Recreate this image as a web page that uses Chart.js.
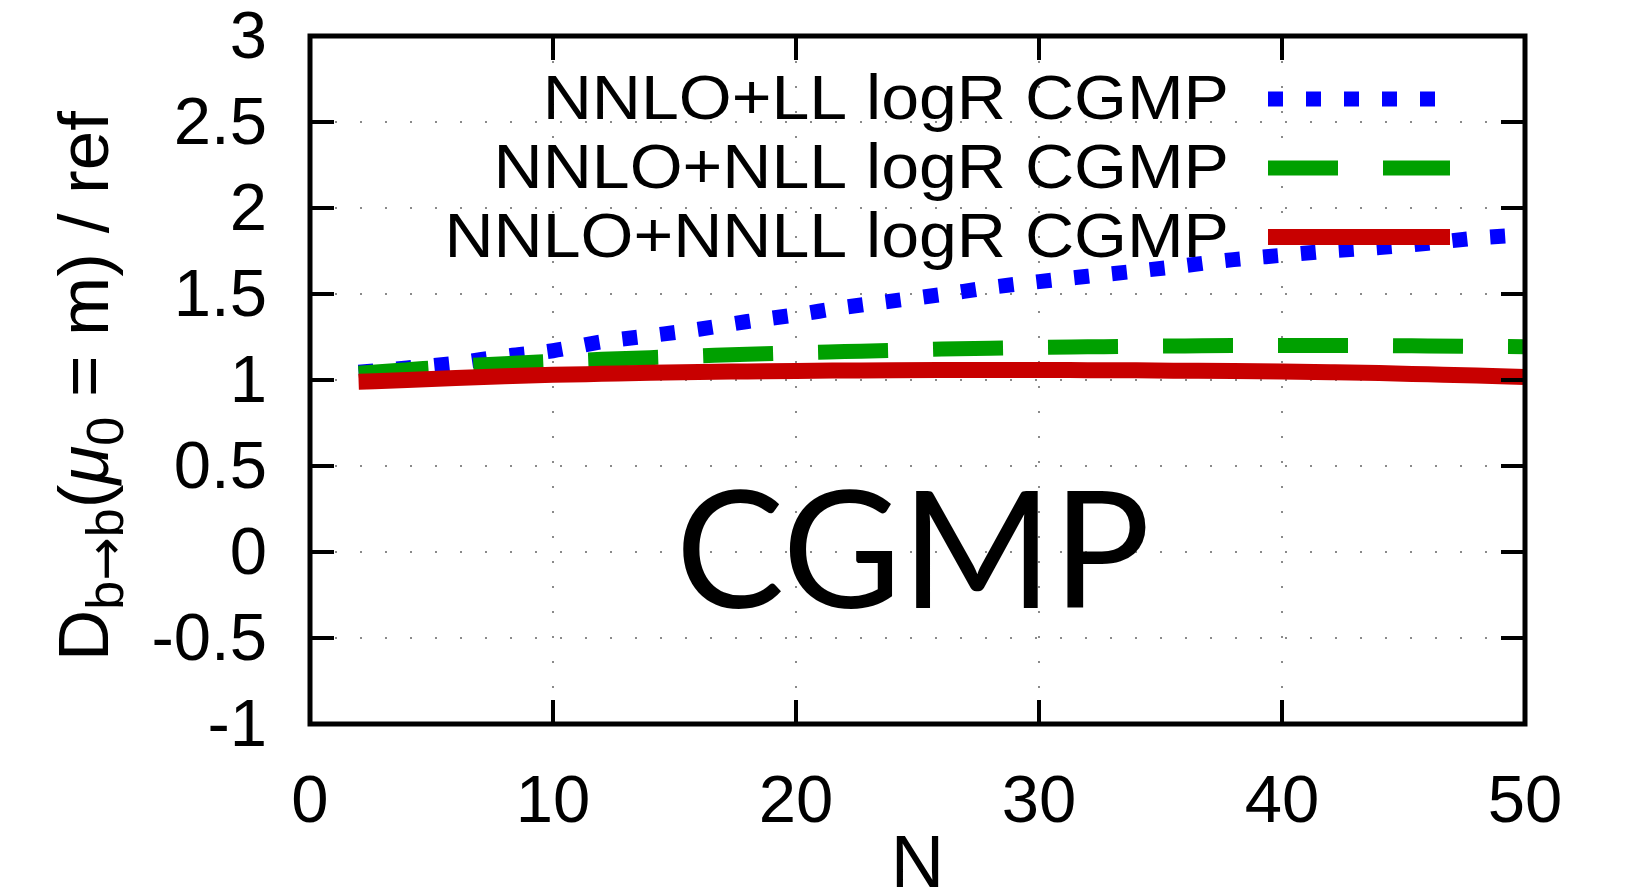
<!DOCTYPE html>
<html lang="en">
<head>
<meta charset="UTF-8">
<title>CGMP</title>
<script src="https://cdn.jsdelivr.net/npm/chart.js"></script>
<style>
  html, body { margin: 0; padding: 0; background: #fff; }
  #wrap { width: 1630px; height: 894px; }
</style>
</head>
<body>
<div id="wrap"><canvas id="chart" width="1630" height="894"></canvas></div>
<script>
// values
const nValues = [2, 4, 6, 8, 10, 12, 14, 16, 18, 20, 22, 24, 26, 28, 30, 32, 34, 36, 38, 40, 42, 44, 46, 48, 50];
const llValues = [1.045, 1.07, 1.098, 1.138, 1.17, 1.222, 1.258, 1.295, 1.34, 1.379, 1.423, 1.46, 1.497,
                  1.538, 1.572, 1.603, 1.633, 1.665, 1.70, 1.725, 1.75, 1.77, 1.795, 1.825, 1.845];
const nllValues = [1.04, 1.06, 1.08, 1.095, 1.108, 1.12, 1.13, 1.14, 1.15, 1.158, 1.165, 1.172, 1.18,
                   1.185, 1.19, 1.193, 1.196, 1.198, 1.2, 1.2, 1.2, 1.2, 1.198, 1.196, 1.194];
const nnllValues = [0.99, 1.0, 1.012, 1.022, 1.03, 1.036, 1.042, 1.047, 1.05, 1.053, 1.055, 1.057, 1.058,
                    1.058, 1.058, 1.057, 1.056, 1.054, 1.052, 1.049, 1.045, 1.04, 1.033, 1.026, 1.018];
const seriesLabels = ['NNLO+LL logR CGMP', 'NNLO+NLL logR CGMP', 'NNLO+NNLL logR CGMP'];
const xTicks = [0, 10, 20, 30, 40, 50];
const yTicks = [-1, -0.5, 0, 0.5, 1, 1.5, 2, 2.5, 3];
const xTitle = 'N';
const overlayText = 'CGMP';

const FONT = '"Liberation Sans", Arial, Helvetica, sans-serif';

function pts(ys) {
    return nValues.map((n, i) => ({ x: n, y: ys[i] }));
}

// gnuplot style key: text on the left, sample on the right, drawn just before its own curve
const keyPlugin = {
    id: 'key',
    beforeDatasetDraw(chart, args) {
        const ds = chart.data.datasets[args.index];
        const area = chart.chartArea;
        const ctx = chart.ctx;
        const y = area.top + 63 + 69 * args.index;
        ctx.save();
        ctx.fillStyle = '#000';
        ctx.font = '63px ' + FONT;
        ctx.textAlign = 'right';
        ctx.textBaseline = 'middle';
        ctx.translate(area.right - 296, y + 3);
        ctx.scale(1.08, 1);
        ctx.fillText(ds.label, 0, 0);
        ctx.restore();

        ctx.save();
        ctx.strokeStyle = ds.borderColor;
        ctx.lineWidth = ds.borderWidth;
        ctx.lineCap = 'butt';
        ctx.setLineDash(ds.borderDash || []);
        ctx.beginPath();
        ctx.moveTo(area.right - 257, y);
        ctx.lineTo(area.right - 75, y);
        ctx.stroke();
        ctx.restore();
    }
};

// frame plus inward mirrored tics
const framePlugin = {
    id: 'frame',
    afterDatasetsDraw(chart) {
        const { ctx, chartArea: a, scales } = chart;
        const tl = 24;
        ctx.save();
        ctx.strokeStyle = '#000';
        ctx.lineWidth = 4;
        ctx.beginPath();
        scales.x.ticks.forEach(t => {
            const px = scales.x.getPixelForValue(t.value);
            ctx.moveTo(px, a.bottom); ctx.lineTo(px, a.bottom - tl);
            ctx.moveTo(px, a.top); ctx.lineTo(px, a.top + tl);
        });
        scales.y.ticks.forEach(t => {
            const py = scales.y.getPixelForValue(t.value);
            ctx.moveTo(a.left, py); ctx.lineTo(a.left + tl, py);
            ctx.moveTo(a.right, py); ctx.lineTo(a.right - tl, py);
        });
        ctx.stroke();
        ctx.lineWidth = 5;
        ctx.strokeRect(a.left, a.top, a.right - a.left, a.bottom - a.top);
        ctx.restore();
    }
};

// rotated y title with subscripts, and the big slide label
const textPlugin = {
    id: 'texts',
    afterDraw(chart) {
        const ctx = chart.ctx;
        const main = '71px ' + FONT;
        const sub = '52px ' + FONT;
        const arrow = '52px "DejaVu Sans", sans-serif';
        const ital = 'italic 71px ' + FONT;
        const parts = [
            { t: 'D', f: main, dy: 0 },
            { t: 'b', f: sub, dy: 15 },
            { t: '\u2192', f: arrow, dy: 15 },
            { t: 'b', f: sub, dy: 15 },
            { t: '(', f: main, dy: 0 },
            { t: '\u03bc', f: ital, dy: 0 },
            { t: '0', f: sub, dy: 15 },
            { t: ' = m) / ref', f: main, dy: 0 }
        ];
        ctx.save();
        ctx.fillStyle = '#000';
        ctx.textBaseline = 'alphabetic';
        ctx.textAlign = 'left';
        let total = 0;
        parts.forEach(p => { ctx.font = p.f; p.w = ctx.measureText(p.t).width; total += p.w; });
        ctx.translate(108, 386);
        ctx.rotate(-Math.PI / 2);
        let x = -total / 2;
        parts.forEach(p => {
            ctx.font = p.f;
            ctx.fillText(p.t, x, p.dy);
            x += p.w;
        });
        ctx.restore();

        ctx.save();
        ctx.fillStyle = '#000';
        ctx.font = '163px Lato, "Noto Sans", sans-serif';
        ctx.textAlign = 'center';
        ctx.textBaseline = 'alphabetic';
        ctx.fillText(overlayText, 913, 608);
        ctx.restore();
    }
};

const tickFont = { family: FONT, size: 67, lineHeight: 1 };
const tickLabel = v => String(v);

new Chart(document.getElementById('chart'), {
    type: 'line',
    data: {
        datasets: [
            {
                label: seriesLabels[0], data: pts(llValues), order: 3,
                borderColor: '#0000ff', borderWidth: 15, borderDash: [15, 23], borderCapStyle: 'butt'
            },
            {
                label: seriesLabels[1], data: pts(nllValues), order: 2,
                borderColor: '#00a000', borderWidth: 15, borderDash: [70, 45], borderCapStyle: 'butt'
            },
            {
                label: seriesLabels[2], data: pts(nnllValues), order: 1,
                borderColor: '#c80000', borderWidth: 16, borderCapStyle: 'butt'
            }
        ]
    },
    options: {
        responsive: false,
        animation: false,
        clip: 0,
        layout: { padding: { left: 0, top: 36, right: 105, bottom: 0 } },
        elements: {
            point: { radius: 0 },
            line: { cubicInterpolationMode: 'monotone' }
        },
        plugins: {
            legend: { display: false },
            tooltip: { enabled: false }
        },
        scales: {
            x: {
                type: 'linear', min: 0, max: 50,
                afterBuildTicks: s => { s.ticks = xTicks.map(v => ({ value: v })); },
                afterFit: s => { s.height = 170; s.paddingLeft = 0; s.paddingRight = 0; },
                ticks: { color: '#000', font: tickFont, padding: 46, maxRotation: 0, callback: tickLabel },
                grid: { color: '#8a8a8a', lineWidth: 2, drawTicks: false },
                border: { display: false, dash: [2, 23] },
                title: {
                    display: true, text: xTitle, color: '#000',
                    font: { family: FONT, size: 74, lineHeight: 0.75 },
                    padding: 0
                }
            },
            y: {
                type: 'linear', min: -1, max: 3,
                afterBuildTicks: s => { s.ticks = yTicks.map(v => ({ value: v })); },
                afterFit: s => { s.width = 310; s.paddingTop = 0; s.paddingBottom = 0; },
                ticks: { color: '#000', font: tickFont, padding: 43, labelOffset: 4, callback: tickLabel },
                grid: { color: '#8a8a8a', lineWidth: 2, drawTicks: false },
                border: { display: false, dash: [2, 23] }
            }
        }
    },
    plugins: [keyPlugin, framePlugin, textPlugin]
});
</script>
</body>
</html>
